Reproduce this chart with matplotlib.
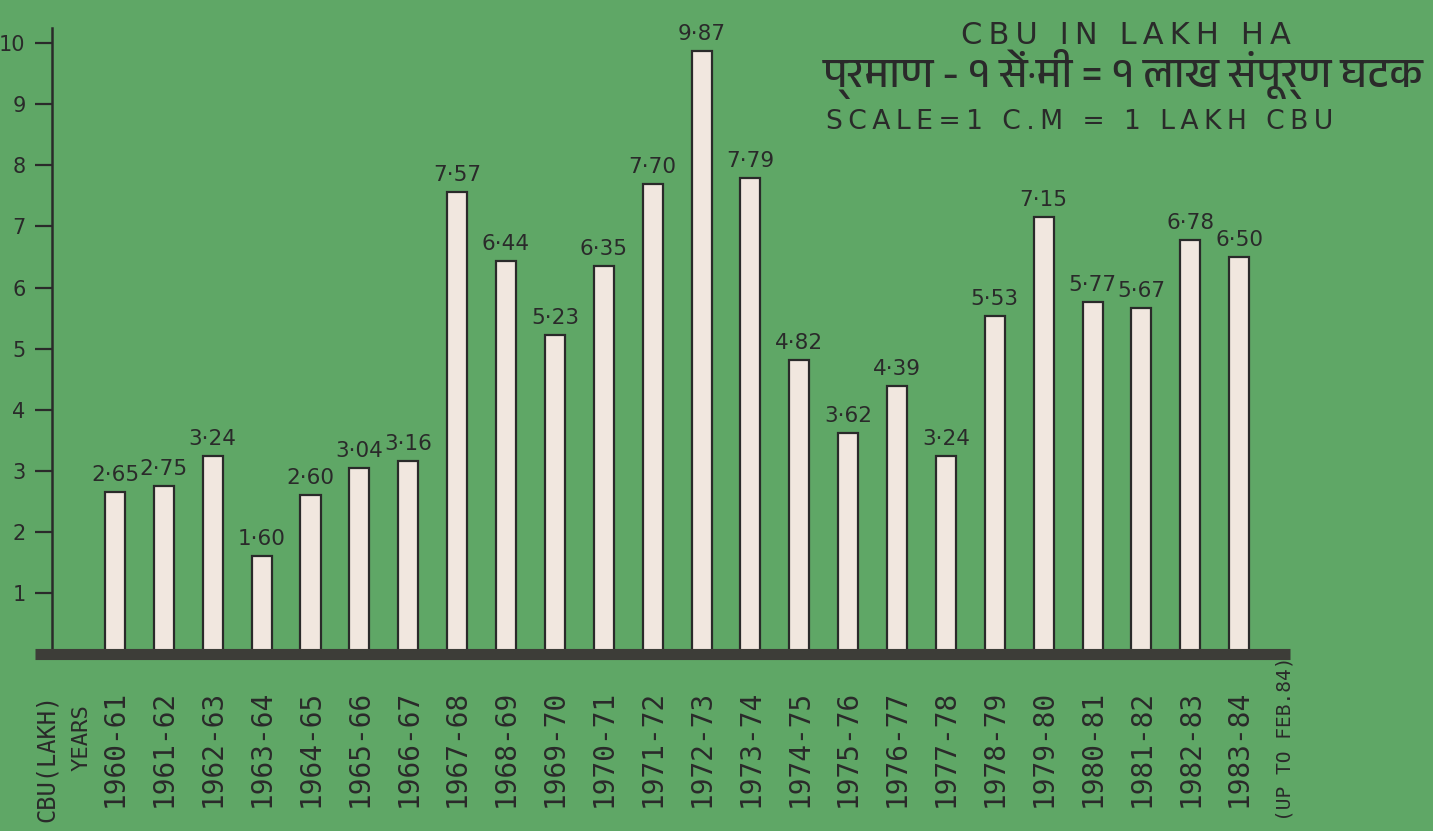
import matplotlib
matplotlib.use('Agg')
import matplotlib.pyplot as plt
from matplotlib import font_manager
from matplotlib.ft2font import FT2Font

years = ['1960-61', '1961-62', '1962-63', '1963-64', '1964-65', '1965-66',
         '1966-67', '1967-68', '1968-69', '1969-70', '1970-71', '1971-72',
         '1972-73', '1973-74', '1974-75', '1975-76', '1976-77', '1977-78',
         '1978-79', '1979-80', '1980-81', '1981-82', '1982-83', '1983-84']
cbu = [2.65, 2.75, 3.24, 1.60, 2.60, 3.04, 3.16, 7.57, 6.44, 5.23, 6.35, 7.70,
       9.87, 7.79, 4.82, 3.62, 4.39, 3.24, 5.53, 7.15, 5.77, 5.67, 6.78, 6.50]
yticks = list(range(1, 11))

title_en = 'CBU IN LAKH HA'
title_hi = 'प्रमाण - १ सें·मी = १ लाख संपूर्ण घटक'
scale_en = 'SCALE=1 C.M = 1 LAKH CBU'

GREEN = '#5fa766'
BAR = '#f1e7df'
INK = '#2a2a2a'


def find_font(ch):
    # installed fonts that have the glyph, proportional sans ones first
    found = []
    for f in font_manager.fontManager.ttflist:
        try:
            if ord(ch) in FT2Font(f.fname).get_charmap():
                found.append(f.name)
        except Exception:
            pass
    if not found:
        return None
    def rank(name):
        n = name.lower()
        return ('devanagari' not in n, 'mono' in n, 'serif' in n, n)
    return sorted(set(found), key=rank)[0]


hi_font = find_font('प')
hi_family = [hi_font, 'DejaVu Sans'] if hi_font else ['DejaVu Sans']


def spaced(s):
    return '\u2009'.join(s)


W, H = 1433, 831
fig = plt.figure(figsize=(W / 100, H / 100), dpi=100, facecolor=GREEN)
ax = fig.add_axes([52 / W, 1 - 654 / H, (1290 - 52) / W, (654 - 28) / H])
ax.set_facecolor(GREEN)

x = list(range(len(years)))
ax.bar(x, cbu, width=0.41, color=BAR, edgecolor=INK, linewidth=1.6, zorder=2)

for xi, v in zip(x, cbu):
    ax.annotate(f'{v:.2f}'.replace('.', '·'), (xi, v), xytext=(0, 5),
                textcoords='offset points', ha='center', va='bottom',
                fontsize=15.5, color=INK, annotation_clip=False)

# thick base line
ax.plot([-1.64, 24.04], [0, 0], color='#3d3d38', lw=8, solid_capstyle='butt',
        clip_on=False, zorder=3)

ax.set_xlim(-1.289, 24.04)
ax.set_ylim(0, 10.25)

for s in ['top', 'right', 'bottom']:
    ax.spines[s].set_visible(False)
ax.spines['left'].set_linewidth(1.8)
ax.spines['left'].set_color(INK)

ax.set_yticks(yticks)
ax.set_yticklabels([str(t) for t in yticks], fontsize=15, color=INK)
ax.tick_params(axis='y', length=12, width=1.6, color=INK, pad=7)

ax.set_xticks(x)
ax.set_xticklabels(years, rotation=90, family='DejaVu Sans Mono', fontsize=20,
                   color=INK)
ax.tick_params(axis='x', length=0, pad=26)

fig.text(47 / W, 1 - 758 / H, 'CBU(LAKH)', rotation=90, ha='center', va='center',
         family='DejaVu Sans Mono', fontsize=17, color=INK)
fig.text(82 / W, 1 - 738 / H, 'YEARS', rotation=90, ha='center', va='center',
         family='DejaVu Sans Mono', fontsize=16, color=INK)
fig.text(1285 / W, 1 - 739 / H, '(UP TO FEB.84)', rotation=90, ha='center',
         va='center', family='DejaVu Sans Mono', fontsize=14, color=INK)

fig.text(1126 / W, 1 - 44 / H, spaced(title_en), ha='center', va='baseline',
         fontsize=22, color=INK)
fig.text(1424 / W, 1 - 87 / H, title_hi, ha='right', va='baseline',
         family=hi_family, fontsize=30, color=INK)
fig.text(826 / W, 1 - 129 / H, spaced(scale_en), ha='left', va='baseline',
         fontsize=19.2, color=INK)

fig.savefig('out.png', dpi=100, facecolor=GREEN)
